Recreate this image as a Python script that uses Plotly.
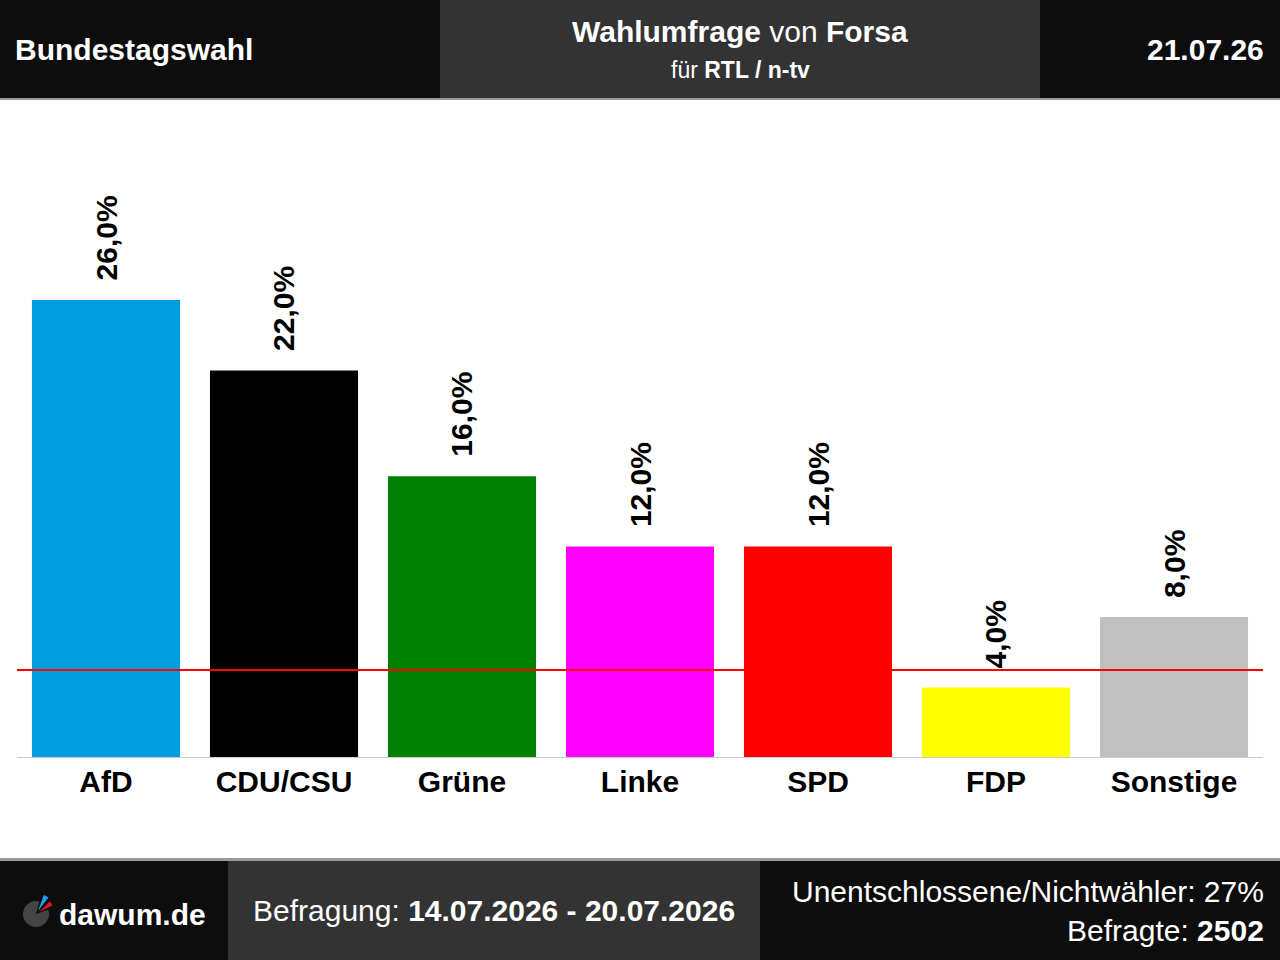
import math
import plotly.graph_objects as go

# ---- data ----
parties = ["AfD", "CDU/CSU", "Grüne", "Linke", "SPD", "FDP", "Sonstige"]
values = [26.0, 22.0, 16.0, 12.0, 12.0, 4.0, 8.0]
colors = ["#009ee0", "#000000", "#008000", "#ff00ff", "#ff0000", "#ffff00", "#c0c0c0"]
threshold = 5.0

header_left = "Bundestagswahl"
header_title = "<b>Wahlumfrage</b> von <b>Forsa</b>"
header_sub = "für <b>RTL / n-tv</b>"
header_date = "21.07.26"
footer_site = "dawum.de"
footer_period = "Befragung: <b>14.07.2026 - 20.07.2026</b>"
footer_undecided = "Unentschlossene/Nichtwähler: 27%"
footer_sample = "Befragte: <b>2502</b>"

# ---- geometry ----
W, H = 1280, 960
ML, MR, MT, MB = 17, 17, 100, 202
PW, PH = W - ML - MR, H - MT - MB
YMAX = 37.35
FONT = "Liberation Sans, Arial, sans-serif"


def xp(px):
    return (px - ML) / PW


def yp(py):
    return 1 - (py - MT) / PH


def rect(x0, y0, x1, y1, color):
    return dict(type="rect", xref="paper", yref="paper",
                x0=xp(x0), x1=xp(x1), y0=yp(y1), y1=yp(y0),
                fillcolor=color, line=dict(width=0), layer="above")


def poly(points, color):
    d = "M " + " L ".join(f"{xp(a):.5f},{yp(b):.5f}" for a, b in points) + " Z"
    return dict(type="path", xref="paper", yref="paper", path=d,
                fillcolor=color, line=dict(width=0), layer="above")


def wedge(cx, cy, r, a0, a1, n=24):
    pts = [(cx, cy)]
    for i in range(n + 1):
        a = math.radians(a0 + (a1 - a0) * i / n)
        pts.append((cx + r * math.cos(a), cy - r * math.sin(a)))
    return pts


fig = go.Figure()
fig.add_trace(go.Bar(x=parties, y=values, marker=dict(color=colors, line=dict(width=0)),
                     hoverinfo="skip"))

annotations = []
for p, v in zip(parties, values):
    annotations.append(dict(x=p, y=v, xref="x", yref="y",
                            text="<b>" + f"{v:.1f}".replace(".", ",") + "%</b>",
                            textangle=-90, showarrow=False, yanchor="bottom",
                            yshift=17, font=dict(size=30, color="#000", family=FONT)))

white = "#ffffff"


def txt(x, y, text, size, xanchor="center", color=white):
    return dict(x=xp(x), y=yp(y), xref="paper", yref="paper", text=text,
                showarrow=False, xanchor=xanchor, yanchor="middle",
                font=dict(size=size, color=color, family=FONT))


annotations += [
    txt(13, 49, "<b>" + header_left + "</b>", 30, "left"),
    txt(740, 31, header_title, 30),
    txt(740, 70, header_sub, 23),
    txt(1266, 49, "<b>" + header_date + "</b>", 30, "right"),
    txt(57, 914, "<b>" + footer_site + "</b>", 30, "left"),
    txt(494, 910, footer_period, 30),
    txt(1266, 891, footer_undecided, 30, "right"),
    txt(1266, 930, footer_sample, 30, "right"),
]

shapes = [
    # header
    rect(0, 0, 1280, 98, "#0d0d0d"),
    rect(440, 0, 1040, 98, "#333333"),
    rect(0, 98, 1280, 100, "#999999"),
    # footer
    rect(0, 858, 1280, 861, "#999999"),
    rect(0, 861, 1280, 960, "#0d0d0d"),
    rect(228, 861, 760, 960, "#333333"),
    # baseline axis
    dict(type="line", xref="paper", yref="y", x0=0, x1=1, y0=0, y1=0,
         line=dict(color="#cccccc", width=2), layer="above"),
    # threshold
    dict(type="line", xref="paper", yref="y", x0=0, x1=1, y0=threshold, y1=threshold,
         line=dict(color="#ff0000", width=2), layer="above"),
    # logo
    poly(wedge(36, 914, 13, 75, 380), "#444444"),
    poly(wedge(38, 911, 17, 52, 70, 6), "#1aa3e8"),
    poly(wedge(39, 912, 15, 26, 44, 6), "#e3141e"),
]

fig.update_layout(
    width=W, height=H,
    margin=dict(l=ML, r=MR, t=MT, b=MB, pad=0),
    paper_bgcolor="#ffffff", plot_bgcolor="#ffffff",
    bargap=0.168,
    showlegend=False,
    xaxis=dict(showgrid=False, zeroline=False, showline=False, ticks="",
               tickfont=dict(size=30, color="#000", family=FONT),
               ticklabelstandoff=3, fixedrange=True),
    yaxis=dict(range=[0, YMAX], showgrid=False, zeroline=False, showline=False,
               showticklabels=False, fixedrange=True),
    shapes=shapes,
    annotations=annotations,
    font=dict(family=FONT),
)
# bold tick labels
fig.update_xaxes(tickvals=parties, ticktext=["<b>" + p + "</b>" for p in parties])

fig.write_html("out.html", config={"displayModeBar": False},
               post_script="document.body.style.margin='0';")
